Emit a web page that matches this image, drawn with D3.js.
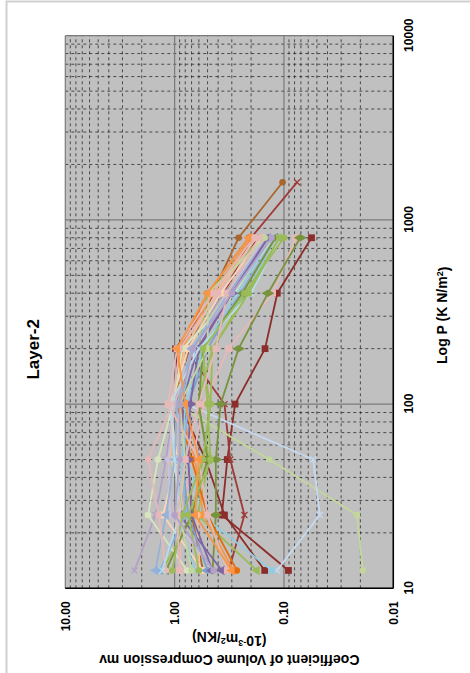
<!DOCTYPE html>
<html>
<head>
<meta charset="utf-8">
<script src="https://cdn.jsdelivr.net/npm/d3@7"></script>
<style>
  body { margin: 0; background: #fff; }
  text { font-family: "Liberation Sans", Arial, sans-serif; font-weight: bold; }
</style>
</head>
<body>
<div id="chart"></div>
<script>
// load steps (kN/m2)
var loads = [12.5, 25, 50, 100, 200, 400, 800, 1600];

// mv values (10^-3 m2/kN) per test, read at each load step
var mv = [
  [0.091, 0.37, 0.33, 0.28, 0.149, 0.115, 0.056],
  [0.15, 0.35, 0.52, 0.9, 0.98, 0.42, 0.17],
  [0.32, 0.23, 0.31, 0.35, 0.8, 0.35, 0.20, 0.076],
  [0.55, 0.7, 0.75, 0.85, 0.75, 0.45, 0.26, 0.103],
  [0.019, 0.0215, 0.136, 0.98, 0.7, 0.35, 0.15],
  [0.116, 0.047, 0.054, 0.78, 0.65, 0.3, 0.13],
  [0.89, 0.89, 0.68, 0.55, 0.32, 0.127, 0.078],
  [0.45, 0.42, 0.42, 0.38, 0.26, 0.14, 0.071],
  [1.3, 0.68, 0.55, 0.47, 0.6, 0.5, 0.16],
  [0.129, 0.565, 0.75, 0.9, 0.6, 0.22, 0.12],
  [0.177, 0.62, 0.48, 0.62, 0.45, 0.22, 0.11],
  [2.33, 1.5, 1.2, 1.0, 0.8, 0.35, 0.14],
  [0.29, 0.55, 0.65, 0.9, 0.85, 0.45, 0.2],
  [0.27, 0.5, 0.7, 0.95, 0.9, 0.5, 0.21],
  [0.59, 0.62, 1.1, 1.05, 0.8, 0.42, 0.18],
  [0.55, 1.28, 0.95, 1.1, 0.75, 0.38, 0.16],
  [0.77, 1.75, 1.42, 1.03, 0.85, 0.28, 0.126],
  [0.44, 1.1, 1.14, 1.0, 0.7, 0.33, 0.15],
  [0.37, 0.9, 0.8, 0.85, 0.62, 0.3, 0.14],
  [0.5, 0.75, 0.85, 0.75, 0.5, 0.25, 0.12],
  [1.5, 1.2, 1.0, 0.95, 0.7, 0.32, 0.14],
  [1.36, 0.8, 0.85, 0.75, 0.55, 0.25, 0.12],
  [0.65, 0.95, 0.84, 0.8, 0.55, 0.27, 0.13],
  [1.2, 0.7, 0.5, 0.6, 0.55, 0.24, 0.12],
  [1.2, 1.4, 1.75, 1.05, 0.9, 0.4, 0.18],
  [0.45, 0.7, 0.75, 0.72, 0.6, 0.3, 0.14],
  [0.7, 0.9, 0.8, 0.9, 0.5, 0.49, 0.15],
  [1.3, 0.9, 1.0, 1.1, 0.6, 0.2, 0.11],
  [0.33, 0.5, 0.6, 1.15, 0.95, 0.45, 0.19],
  [0.6, 0.75, 0.47, 0.5, 0.55, 0.23, 0.1],
  [1.05, 0.85, 0.55, 0.47, 0.45, 0.21, 0.11],
  [0.9, 0.95, 0.8, 0.6, 0.42, 0.33, 0.17],
  [0.3, 0.65, 0.6, 0.8, 0.95, 0.5, 0.21],
  [0.44, 1.0, 0.9, 0.9, 0.68, 0.3, 0.13]
];

var colors = ["#8c2d2b", "#8c2d2b", "#9e3a38", "#a8652c", "#c3d69b", "#c6d9f1",
  "#e6b9b8", "#77933c", "#9bbb59", "#93cddd", "#9bbb59", "#b3a2c7",
  "#f79646", "#e46c0a", "#fac090", "#fcd5b5", "#d7e4bd", "#ccc1da",
  "#8064a2", "#7fa0cf", "#95b3d7", "#8eb0dc", "#93cddd", "#77933c",
  "#e6b9b8", "#8064a2", "#c3d69b", "#b7dee8", "#e6b9b8", "#9bbb59",
  "#9bbb59", "#e6b9b8", "#f79646", "#b2a2c7"];
var markers = ["square", "square", "x", "circle", "circle", "x",
  "square", "diamond", "circle", "square", "triangle", "x",
  "square", "circle", "circle", "square", "circle", "circle",
  "triangle", "diamond", "triangle", "triangle", "star", "triangle",
  "circle", "diamond", "circle", "x", "square", "circle",
  "circle", "square", "triangle", "circle"];

var pTicks = [10, 100, 1000, 10000],
    mvTicks = [0.01, 0.1, 1, 10];

// chart is laid out in its own frame, then turned a quarter left
var W = 552.6, H = 328;

var svg = d3.select("#chart").append("svg")
    .attr("width", 470)
    .attr("height", 673);

svg.append("rect")
    .attr("x", 6.5).attr("y", 1.5)
    .attr("width", 520).attr("height", 720)
    .attr("fill", "none")
    .attr("stroke", "#d0d0d0")
    .attr("stroke-width", 2);

var g = svg.append("g")
    .attr("transform", "translate(65.3,588.3) rotate(-90)");

var x = d3.scaleLog().domain([10, 10000]).range([0, W]),
    y = d3.scaleLog().domain([0.01, 10]).range([H, 0]);

g.append("rect")
    .attr("width", W).attr("height", H)
    .attr("fill", "#c0c0c0");

function minors(decades) {
  var out = [];
  decades.forEach(function(d) { for (var k = 2; k <= 9; k++) out.push(d * k); });
  return out;
}

var grid = g.append("g").attr("class", "grid");
grid.selectAll(".vx").data(minors([10, 100, 1000]))
  .enter().append("line")
    .attr("x1", function(d) { return x(d); }).attr("x2", function(d) { return x(d); })
    .attr("y1", 0).attr("y2", H)
    .attr("stroke", "#222").attr("stroke-width", 0.75)
    .attr("stroke-dasharray", "3,3");
grid.selectAll(".hy").data(minors([0.01, 0.1, 1]))
  .enter().append("line")
    .attr("y1", function(d) { return y(d); }).attr("y2", function(d) { return y(d); })
    .attr("x1", 0).attr("x2", W)
    .attr("stroke", "#222").attr("stroke-width", 0.75)
    .attr("stroke-dasharray", "3,3");
grid.selectAll(".mx").data(pTicks)
  .enter().append("line")
    .attr("x1", function(d) { return x(d); }).attr("x2", function(d) { return x(d); })
    .attr("y1", 0).attr("y2", H)
    .attr("stroke", "#7a7a7a").attr("stroke-width", 1.2);
grid.selectAll(".my").data(mvTicks)
  .enter().append("line")
    .attr("y1", function(d) { return y(d); }).attr("y2", function(d) { return y(d); })
    .attr("x1", 0).attr("x2", W)
    .attr("stroke", "#7a7a7a").attr("stroke-width", 1.2);

// series
var line = d3.line()
    .x(function(d) { return x(d[0]); })
    .y(function(d) { return y(d[1]); });

function markerPath(type) {
  if (type == "x") return "M-3,-3L3,3M-3,3L3,-3";
  if (type == "star") return "M-3,-3L3,3M-3,3L3,-3M0,-3.5L0,3.5";
  var t = {square: d3.symbolSquare, diamond: d3.symbolDiamond,
           triangle: d3.symbolTriangle, circle: d3.symbolCircle}[type];
  var size = {square: 46, diamond: 48, triangle: 40, circle: 34}[type];
  return d3.symbol().type(t).size(size)();
}

var series = g.append("g").selectAll("g")
    .data(mv.map(function(vals, i) {
      return {color: colors[i], marker: markers[i],
              pts: vals.map(function(v, j) { return [loads[j], v]; })};
    }))
  .enter().append("g");

series.append("path")
    .attr("d", function(d) { return line(d.pts); })
    .attr("fill", "none")
    .attr("stroke", function(d) { return d.color; })
    .attr("stroke-width", 1.8);

series.selectAll(".pt")
    .data(function(d) { return d.pts.map(function(p) { return {p: p, s: d}; }); })
  .enter().append("path")
    .attr("transform", function(d) { return "translate(" + x(d.p[0]) + "," + y(d.p[1]) + ")"; })
    .attr("d", function(d) { return markerPath(d.s.marker); })
    .attr("fill", function(d) { return (d.s.marker == "x" || d.s.marker == "star") ? "none" : d.s.color; })
    .attr("stroke", function(d) { return d.s.color; })
    .attr("stroke-width", function(d) { return (d.s.marker == "x" || d.s.marker == "star") ? 1.3 : 0; });

// axes
g.append("g")
    .attr("transform", "translate(0," + H + ")")
    .style("font-size", "12px")
    .call(d3.axisBottom(x).tickValues(pTicks).tickFormat(d3.format("d")).tickSize(0).tickPadding(11))
    .call(function(a) { a.select(".domain").remove(); })
    .selectAll("text").style("font-weight", "bold").attr("fill", "#000");

g.append("g")
    .style("font-size", "12px")
    .call(d3.axisLeft(y).tickValues(mvTicks).tickFormat(d3.format(".2f")).tickSize(0).tickPadding(13))
    .call(function(a) { a.select(".domain").remove(); })
    .selectAll("text").style("font-weight", "bold").attr("fill", "#000");

g.append("line").attr("x1", 0).attr("x2", W).attr("y1", H).attr("y2", H)
    .attr("stroke", "#000").attr("stroke-width", 1.5);
g.append("line").attr("x1", 0).attr("x2", 0).attr("y1", 0).attr("y2", H)
    .attr("stroke", "#000").attr("stroke-width", 1.5);

// titles
g.append("text")
    .attr("x", 239).attr("y", -32).attr("dy", "0.35em")
    .attr("text-anchor", "middle")
    .style("font-size", "17px")
    .text("Layer-2");

var xt = g.append("text")
    .attr("x", 273).attr("y", 376.7).attr("dy", "0.35em")
    .attr("text-anchor", "middle")
    .style("font-size", "14px");
xt.append("tspan").text("Log P (K N/m");
xt.append("tspan").attr("dy", "-0.45em").style("font-size", "9px").text("2");
xt.append("tspan").attr("dy", "0.45em").text(")");

g.append("text")
    .attr("transform", "translate(-71.7," + (H / 2) + ") rotate(-90)")
    .attr("dy", "0.35em")
    .attr("text-anchor", "middle")
    .style("font-size", "14px")
    .text("Coefficient of Volume Compression mv");

var yt = g.append("text")
    .attr("transform", "translate(-52.7," + (H / 2) + ") rotate(-90)")
    .attr("dy", "0.35em")
    .attr("text-anchor", "middle")
    .style("font-size", "14px");
yt.append("tspan").text("(10");
yt.append("tspan").attr("dy", "-0.45em").style("font-size", "9px").text("-3");
yt.append("tspan").attr("dy", "0.45em").text("m");
yt.append("tspan").attr("dy", "-0.45em").style("font-size", "9px").text("2");
yt.append("tspan").attr("dy", "0.45em").text("/KN)");
</script>
</body>
</html>
